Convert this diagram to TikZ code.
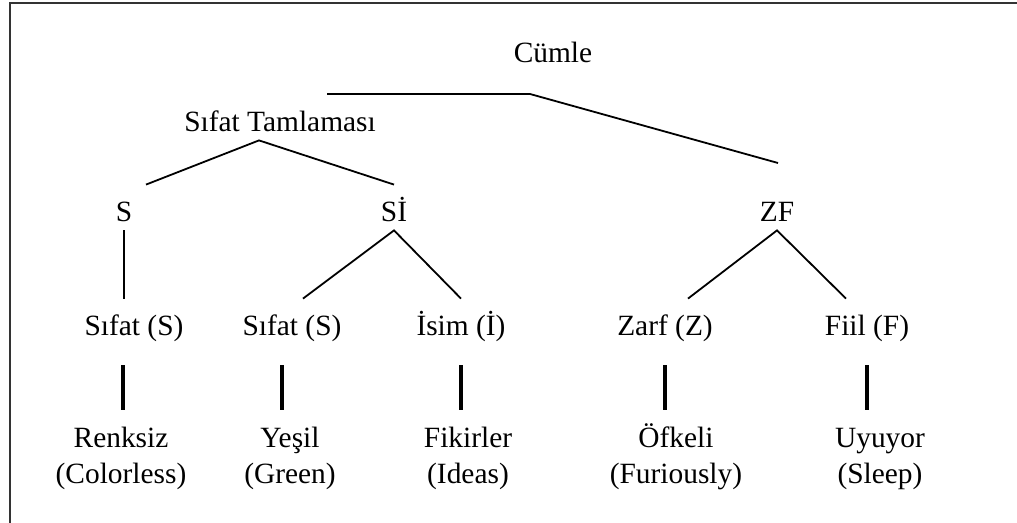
\documentclass[tikz,border=0pt]{standalone}
\usepackage{fontspec}
\setmainfont{Liberation Serif}
\usetikzlibrary{calc}

\begin{document}
\begin{tikzpicture}[x=0.5pt, y=-0.5pt]
\tikzstyle{word} = [font=\fontsize{14.7pt}{18pt}\selectfont, inner sep=0pt, anchor=base, text height=18.5pt, text depth=4pt]
\tikzstyle{tag} = [word, text depth=14.5pt]
\tikzstyle{gloss} = [font=\fontsize{14.7pt}{18pt}\selectfont, inner sep=0pt, anchor=base, align=center, text height=36.5pt]
\tikzstyle{branch} = [line width=0.9pt]
\tikzstyle{stem} = [line width=1.8pt]
\tikzstyle{frame} = [line width=1pt, black!80]

\useasboundingbox (0,0) rectangle (1017,523);
\draw [frame] (9.5,523) |- (1017,3.5);

% ust seviye
\node (cumle) [word] at (553,63) {Cümle};
\node (stam) [word] at (280,132) {Sıfat Tamlaması};

\node (s) [word] at (124,222) {S};
\node (si) [word] at (394,222) {Sİ};
\node (zf) [word] at (777,222) {ZF};

% sozcuk turleri
\node (sfl) [tag] at (134,336) {Sıfat (S)};
\node (sfm) [tag] at (292,336) {Sıfat (S)};
\node (isim) [tag] at (461,336) {İsim (İ)};
\node (zarf) [tag] at (665,336) {Zarf (Z)};
\node (fiil) [tag] at (867,336) {Fiil (F)};

% sozcukler (base = son satir)
\node (renk) [gloss] at (121,483) {Renksiz\\(Colorless)};
\node (yesil) [gloss] at (290,483) {Yeşil\\(Green)};
\node (fikir) [gloss] at (468,483) {Fikirler\\(Ideas)};
\node (ofke) [gloss] at (676,483) {Öfkeli\\(Furiously)};
\node (uyu) [gloss] at (880,483) {Uyuyor\\(Sleep)};

\coordinate (cl) at (327,94);
\coordinate (cb) at (530,94);
\coordinate (ce) at (778,163);

\draw [branch] (cl) -- (cb) -- (ce);
\draw [branch] ([xshift=11pt]s.north) -- ([xshift=-10.5pt]stam.south) -- (si.north);
\draw [branch] (s.south) -- (s.south |- sfl.north);
\draw [branch] ([xshift=5.5pt]sfm.north) -- (si.south) -- (isim.north);
\draw [branch] ([xshift=11.5pt]zarf.north) -- (zf.south) -- ([xshift=-10.5pt]fiil.north);

\draw [stem] ([xshift=-5.5pt]sfl.south) -- ([xshift=-5.5pt]sfl.south |- renk.north);
\draw [stem] ([xshift=-5pt]sfm.south) -- ([xshift=-5pt]sfm.south |- yesil.north);
\draw [stem] (isim.south) -- (isim.south |- fikir.north);
\draw [stem] (zarf.south) -- (zarf.south |- ofke.north);
\draw [stem] (fiil.south) -- (fiil.south |- uyu.north);

\end{tikzpicture}
\end{document}
